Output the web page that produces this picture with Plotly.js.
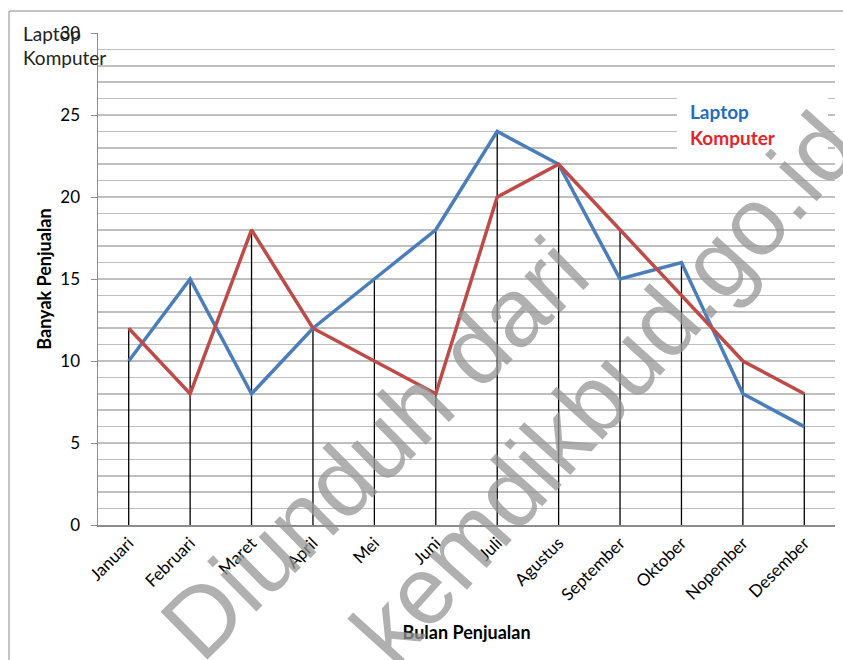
<!DOCTYPE html>
<html>
<head>
<meta charset="utf-8">
<script src="https://cdn.plot.ly/plotly-3.0.1.min.js"></script>
<style>html,body{margin:0;padding:0;background:#fff;}#chart{width:843px;height:660px;}</style>
</head>
<body>
<div id="chart"></div>
<script>
const months = ["Januari","Februari","Maret","April","Mei","Juni","Juli","Agustus","September","Oktober","Nopember","Desember"];
const laptop = [10,15,8,12,15,18,24,22,15,16,8,6];
const komputer = [12,8,18,12,10,8,20,22,18,14,10,8];
const seriesNames = ["Laptop","Komputer"];

const dropX = [], dropY = [];
months.forEach((m,i)=>{ dropX.push(m,m,null); dropY.push(0, Math.max(laptop[i],komputer[i]), null); });

const FONT = "Lato, 'Liberation Sans', sans-serif";
const traces = [
  {x: dropX, y: dropY, type:'scatter', mode:'lines', line:{color:'#000', width:1.3}, hoverinfo:'skip', showlegend:false},
  {x: months, y: laptop, name: seriesNames[0], type:'scatter', mode:'lines', line:{color:'#4A7EBB', width:3.5}, showlegend:false},
  {x: months, y: komputer, name: seriesNames[1], type:'scatter', mode:'lines', line:{color:'#BE4B48', width:3.5}, showlegend:false}
];

const layout = {
  width:843, height:660,
  margin:{l:98, r:8, t:33, b:135},
  paper_bgcolor:'#fff', plot_bgcolor:'#fff',
  font:{family:FONT, color:'#000'},
  showlegend:false,
  xaxis:{type:'category', range:[-0.5,11.5], showgrid:false, zeroline:false,
    showline:true, linecolor:'#8c8c8c', linewidth:1.5, ticks:'', tickangle:-45,
    tickfont:{size:17, family:FONT}, automargin:false,
    title:{text:'<b>Bulan Penjualan</b>', font:{size:18, family:FONT}, standoff:22}},
  yaxis:{range:[0,30], dtick:5, tick0:0, showgrid:true, gridcolor:'#bfbfbf', gridwidth:1.5,
    minor:{dtick:1, showgrid:true, gridcolor:'#bfbfbf', gridwidth:1.5},
    zeroline:false, showline:true, linecolor:'#8c8c8c', linewidth:1.5,
    ticks:'outside', ticklen:6, tickcolor:'#8c8c8c', tickfont:{size:17, family:FONT},
    ticklabelstandoff:7,
    automargin:false,
    title:{text:'<b>Banyak Penjualan</b>', font:{size:18, family:FONT}, standoff:4}},
  shapes:[
    {type:'rect', xref:'paper', yref:'paper', x0:(9-98)/737, x1:1.1, y0:-0.4, y1:(525-11)/492,
     line:{color:'#8a8a8a', width:1}, fillcolor:'rgba(0,0,0,0)', layer:'below'},
    {type:'rect', xref:'paper', yref:'paper', x0:(677-98)/737, x1:(828-98)/737, y0:(525-155)/492, y1:(525-90)/492,
     line:{width:0}, fillcolor:'#fff', layer:'above'}
  ],
  annotations:[
    {xref:'paper', yref:'paper', x:(21-98)/737, y:(525-33)/492, xanchor:'left', yanchor:'middle', showarrow:false,
     text:seriesNames[0], font:{size:19, color:'#222', family:FONT}},
    {xref:'paper', yref:'paper', x:(21-98)/737, y:(525-57)/492, xanchor:'left', yanchor:'middle', showarrow:false,
     text:seriesNames[1], font:{size:19, color:'#222', family:FONT}},
    {xref:'paper', yref:'paper', x:(688-98)/737, y:(525-112)/492, xanchor:'left', yanchor:'middle', showarrow:false,
     text:'<b>'+seriesNames[0]+'</b>', font:{size:19, color:'#1F6EC0', family:FONT}},
    {xref:'paper', yref:'paper', x:(688-98)/737, y:(525-137)/492, xanchor:'left', yanchor:'middle', showarrow:false,
     text:'<b>'+seriesNames[1]+'</b>', font:{size:19, color:'#E5252A', family:FONT}},
    {xref:'paper', yref:'paper', x:(374-98)/737, y:(525-448)/492, xanchor:'center', yanchor:'middle', showarrow:false,
     textangle:-44.5, text:'Diunduh dari', font:{size:97, color:'rgba(150,150,150,0.75)', family:"'Liberation Sans', Arial, sans-serif"}},
    {xref:'paper', yref:'paper', x:(603-98)/737, y:(525-388)/492, xanchor:'center', yanchor:'middle', showarrow:false,
     textangle:-48, text:'kemdikbud.go.id', font:{size:96, color:'rgba(150,150,150,0.75)', family:"'Liberation Sans', Arial, sans-serif"}}
  ]
};

Plotly.newPlot('chart', traces, layout, {staticPlot:true, displayModeBar:false});
</script>
</body>
</html>
